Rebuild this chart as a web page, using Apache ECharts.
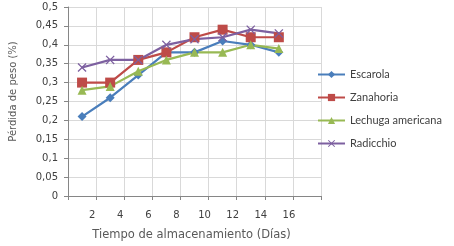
<!DOCTYPE html>
<html>
<head>
<meta charset="utf-8">
<script src="https://cdn.jsdelivr.net/npm/echarts@6/dist/echarts.min.js"></script>
<style>
  html, body { margin: 0; padding: 0; background: #fff; }
  #main { width: 454px; height: 246px; }
</style>
</head>
<body>
<div id="main"></div>
<script>
// datos (dias y perdida de peso)
var dias = [1, 3, 5, 7, 9, 11, 13, 15];
var escarola = [0.21, 0.26, 0.32, 0.38, 0.38, 0.41, 0.40, 0.38];
var zanahoria = [0.30, 0.30, 0.36, 0.38, 0.42, 0.44, 0.42, 0.42];
var lechuga = [0.28, 0.29, 0.33, 0.36, 0.38, 0.38, 0.40, 0.39];
var radicchio = [0.34, 0.36, 0.36, 0.40, 0.415, 0.42, 0.44, 0.43];
var nombres = ['Escarola', 'Zanahoria', 'Lechuga americana', 'Radicchio'];

function pares(ys) {
  return dias.map(function (d, i) { return [d, ys[i]]; });
}

var cruz = 'path://M0,1L1,0L5,4L9,0L10,1L6,5L10,9L9,10L5,6L1,10L0,9L4,5Z';

var myChart = echarts.init(document.getElementById('main'));
var option = {
  animation: false,
  grid: { left: 67, right: 133, top: 7, bottom: 47 },
  legend: {
    orient: 'vertical',
    left: 312,
    top: 64,
    itemWidth: 27,
    itemHeight: 9,
    itemGap: 12,
    textStyle: { fontFamily: 'Lato', fontSize: 11, color: '#404040' },
    data: nombres
  },
  xAxis: {
    type: 'value',
    min: 0, max: 18, interval: 2,
    name: 'Tiempo de almacenamiento (Días)',
    nameLocation: 'middle',
    nameGap: 33,
    nameTextStyle: { fontFamily: 'DejaVu Sans', fontSize: 11.5, color: '#595959', padding: [0, 6, 0, 0] },
    axisLine: { show: true, lineStyle: { color: '#868686' } },
    axisTick: { show: true, length: 4, lineStyle: { color: '#868686' } },
    splitLine: { show: true, lineStyle: { color: '#d9d9d9' } },
    axisLabel: {
      margin: 14,
      fontFamily: 'DejaVu Sans', fontSize: 10, color: '#404040',
      padding: [0, 8, 0, 0],
      formatter: function (v) { return (v === 0 || v === 18) ? '' : String(v); }
    }
  },
  yAxis: {
    type: 'value',
    min: 0, max: 0.5, interval: 0.05,
    name: 'Pérdida de peso (%)',
    nameLocation: 'middle',
    nameGap: 50,
    nameTextStyle: { fontFamily: 'DejaVu Sans', fontSize: 10, color: '#595959', padding: [0, 0, 0, 20] },
    axisLine: { show: true, lineStyle: { color: '#868686' } },
    axisTick: { show: true, length: 4, lineStyle: { color: '#868686' } },
    splitLine: { show: true, lineStyle: { color: '#d9d9d9' } },
    axisLabel: {
      margin: 10,
      fontFamily: 'DejaVu Sans', fontSize: 10, color: '#404040',
      formatter: function (v) { return String(parseFloat(v.toFixed(2))).replace('.', ','); }
    }
  },
  series: [
    {
      name: nombres[0], type: 'line', data: pares(escarola),
      symbol: 'diamond', symbolSize: 9,
      itemStyle: { color: '#4a7ebb' }, lineStyle: { width: 2.2, color: '#4a7ebb' }
    },
    {
      name: nombres[1], type: 'line', data: pares(zanahoria),
      symbol: 'rect', symbolSize: 10,
      itemStyle: { color: '#be4b48' }, lineStyle: { width: 2.2, color: '#be4b48' }
    },
    {
      name: nombres[2], type: 'line', data: pares(lechuga),
      symbol: 'triangle', symbolSize: 9,
      itemStyle: { color: '#98b954' }, lineStyle: { width: 2.2, color: '#98b954' }
    },
    {
      name: nombres[3], type: 'line', data: pares(radicchio),
      symbol: cruz, symbolSize: 9,
      itemStyle: { color: '#7d60a0' }, lineStyle: { width: 2.2, color: '#7d60a0' }
    }
  ]
};
myChart.setOption(option);
</script>
</body>
</html>
